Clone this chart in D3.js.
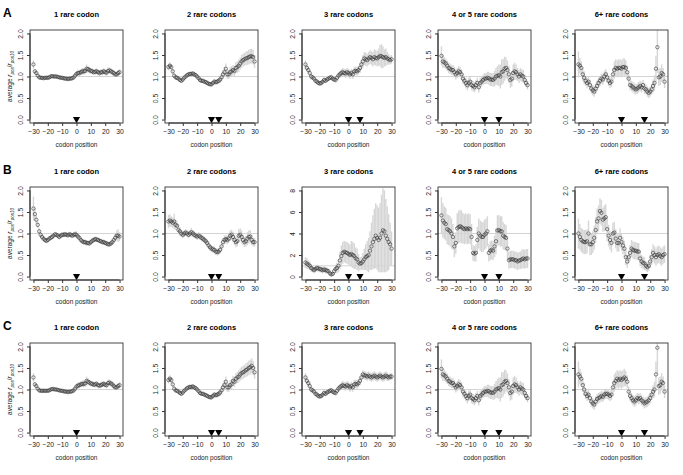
<!DOCTYPE html>
<html><head><meta charset="utf-8">
<script src="https://cdn.jsdelivr.net/npm/d3@7"></script>
<style>body{margin:0;background:#fff}svg{display:block}text{font-family:"Liberation Sans",Arial,sans-serif}</style>
</head><body><svg id="c" width="683" height="475"></svg>
<script>
const positions = d3.range(-30, 31);
const titles = ["1 rare codon","2 rare codons","3 rare codons","4 or 5 rare codons","6+ rare codons"];
const rowLetters = ["A","B","C"];
const rareSites = [[0],[0,5],[0,8],[0,10],[0,16]];
const yTicksStd = [0,0.5,1,1.5,2];
const yTicksBig = [0,2,4,6,8];
const xTicks = [-30,-20,-10,0,10,20,30];

// Row A
const A1 = [1.28,1.12,1.08,1.02,0.98,0.97,0.97,0.96,0.97,0.97, 0.97,0.98,1.0,1.01,1.0,1.0,1.0,0.99,0.98,0.97, 0.97,0.96,0.95,0.95,0.94,0.95,0.95,0.96,0.98,1.02, 1.06,1.08,1.08,1.1,1.12,1.12,1.13,1.18,1.17,1.15, 1.13,1.12,1.1,1.11,1.12,1.1,1.08,1.1,1.1,1.12, 1.1,1.09,1.13,1.14,1.12,1.1,1.08,1.05,1.05,1.08, 1.1];
const A1e = [0.1,0.05,0.04,0.03,0.03,0.03,0.03,0.03,0.03,0.03, 0.03,0.03,0.03,0.03,0.03,0.03,0.03,0.03,0.03,0.03, 0.03,0.03,0.03,0.03,0.03,0.03,0.03,0.04,0.05,0.06, 0.07,0.08,0.07,0.07,0.08,0.08,0.08,0.1,0.08,0.07, 0.07,0.07,0.06,0.07,0.07,0.07,0.06,0.07,0.07,0.07, 0.07,0.07,0.08,0.07,0.07,0.07,0.07,0.06,0.06,0.07, 0.07];
const A2 = [1.22,1.25,1.22,1.12,1.02,0.98,0.97,0.95,0.92,0.9, 0.93,0.97,1.0,1.03,1.05,1.06,1.06,1.07,1.05,1.03, 1.0,0.96,0.92,0.9,0.9,0.88,0.87,0.85,0.83,0.82, 0.82,0.85,0.88,0.87,0.88,0.9,0.93,0.98,1.05,1.1, 1.18,1.05,1.05,1.1,1.12,1.15,1.13,1.2,1.22,1.25, 1.3,1.35,1.38,1.4,1.42,1.43,1.45,1.47,1.47,1.45, 1.35];
const A2e = [0.08,0.08,0.07,0.06,0.05,0.05,0.05,0.05,0.05,0.05, 0.05,0.05,0.05,0.05,0.05,0.05,0.05,0.05,0.05,0.05, 0.05,0.05,0.05,0.05,0.05,0.05,0.05,0.05,0.05,0.05, 0.06,0.06,0.06,0.06,0.07,0.07,0.08,0.09,0.1,0.12, 0.12,0.1,0.1,0.12,0.12,0.12,0.12,0.13,0.13,0.14, 0.14,0.15,0.15,0.15,0.16,0.16,0.17,0.17,0.17,0.17, 0.15];
const A3 = [1.28,1.2,1.15,1.08,1.0,0.98,0.95,0.9,0.88,0.85, 0.84,0.85,0.88,0.92,0.9,0.93,0.95,0.97,0.98,0.95, 0.93,0.92,0.97,1.02,1.05,1.08,1.1,1.08,1.07,1.1, 1.08,1.05,1.08,1.05,1.12,1.13,1.12,1.15,1.2,1.28, 1.35,1.42,1.4,1.38,1.42,1.45,1.43,1.4,1.45,1.43, 1.42,1.45,1.48,1.47,1.45,1.43,1.45,1.42,1.4,1.38, 1.4];
const A3e = [0.1,0.08,0.08,0.07,0.07,0.06,0.06,0.06,0.06,0.06, 0.06,0.06,0.06,0.06,0.06,0.06,0.06,0.06,0.06,0.06, 0.06,0.06,0.07,0.08,0.08,0.09,0.1,0.1,0.1,0.1, 0.1,0.1,0.1,0.1,0.1,0.1,0.1,0.1,0.12,0.12, 0.15,0.15,0.15,0.15,0.15,0.16,0.16,0.17,0.18,0.18, 0.18,0.2,0.25,0.28,0.25,0.2,0.2,0.15,0.12,0.1, 0.1];
const A4 = [1.48,1.35,1.33,1.3,1.25,1.2,1.18,1.15,1.15,1.1, 1.05,1.08,1.12,1.1,1.05,0.95,0.9,0.85,0.8,0.85, 0.88,0.8,0.78,0.75,0.8,0.85,0.75,0.85,0.88,0.92, 0.95,0.95,0.97,0.96,0.93,0.93,0.92,0.95,1.0,1.02, 1.03,1.0,1.1,1.12,1.18,1.2,1.15,1.05,0.92,0.95, 1.08,1.12,1.1,1.05,1.0,1.05,1.02,1.0,0.92,0.85, 0.8];
const A4e = [0.22,0.15,0.13,0.12,0.12,0.12,0.12,0.12,0.12,0.12, 0.12,0.12,0.12,0.12,0.12,0.12,0.12,0.12,0.12,0.12, 0.12,0.12,0.12,0.12,0.12,0.12,0.12,0.12,0.12,0.12, 0.13,0.13,0.14,0.15,0.15,0.15,0.16,0.18,0.2,0.22, 0.25,0.28,0.3,0.28,0.28,0.25,0.22,0.2,0.18,0.18, 0.2,0.2,0.18,0.15,0.15,0.15,0.15,0.15,0.12,0.1, 0.1];
const A5 = [1.28,1.25,1.2,1.05,0.97,0.9,0.85,0.88,0.8,0.72, 0.68,0.65,0.72,0.78,0.85,0.9,0.95,0.93,1.0,1.05, 0.98,0.9,0.85,0.88,1.05,1.15,1.2,1.18,1.2,1.2, 1.18,1.22,1.22,1.2,1.1,0.95,0.8,0.78,0.75,0.72, 0.7,0.72,0.75,0.78,0.75,0.8,0.72,0.7,0.65,0.62, 0.65,0.7,0.78,0.85,1.18,1.68,0.98,1.0,1.08,1.05, 0.88];
const A5e = [0.3,0.18,0.15,0.15,0.15,0.12,0.12,0.12,0.12,0.12, 0.12,0.12,0.12,0.12,0.12,0.12,0.12,0.12,0.12,0.12, 0.12,0.12,0.12,0.12,0.15,0.2,0.2,0.2,0.2,0.2, 0.2,0.2,0.2,0.18,0.15,0.12,0.12,0.12,0.12,0.12, 0.12,0.12,0.12,0.12,0.12,0.12,0.12,0.12,0.12,0.12, 0.12,0.12,0.15,0.18,0.3,0.6,0.2,0.2,0.2,0.15, 0.15];

// Row B
const B1 = [1.58,1.45,1.32,1.2,1.05,0.97,0.92,0.88,0.85,0.83, 0.85,0.88,0.9,0.92,0.95,0.98,0.97,0.95,0.92,0.95, 0.97,0.97,0.98,0.97,0.96,0.98,0.97,0.95,0.97,0.98, 0.97,0.93,0.9,0.85,0.82,0.8,0.8,0.78,0.78,0.77, 0.8,0.83,0.85,0.87,0.86,0.85,0.83,0.82,0.8,0.8, 0.78,0.77,0.75,0.75,0.77,0.8,0.85,0.9,0.95,0.95, 0.93];
const B1e = [0.28,0.15,0.1,0.08,0.07,0.06,0.06,0.06,0.06,0.06, 0.06,0.06,0.06,0.06,0.06,0.06,0.06,0.06,0.06,0.06, 0.06,0.06,0.06,0.06,0.06,0.06,0.06,0.06,0.06,0.07, 0.08,0.07,0.06,0.06,0.06,0.06,0.06,0.06,0.06,0.06, 0.06,0.06,0.06,0.06,0.06,0.06,0.06,0.06,0.06,0.06, 0.06,0.06,0.06,0.06,0.06,0.06,0.07,0.08,0.12,0.15, 0.1];
const B2 = [1.28,1.3,1.28,1.25,1.28,1.2,1.18,1.08,1.05,1.0, 0.97,1.0,1.02,1.0,0.97,1.0,1.03,1.0,0.97,0.95, 0.93,0.95,0.93,0.9,0.88,0.85,0.82,0.78,0.72,0.68, 0.65,0.63,0.62,0.58,0.57,0.58,0.62,0.7,0.8,0.85, 0.87,0.85,0.88,0.95,0.97,0.92,0.85,0.8,0.82,0.95, 0.97,0.92,0.85,0.8,0.82,0.88,0.92,0.93,0.85,0.8, 0.8];
const B2e = [0.15,0.15,0.12,0.12,0.18,0.12,0.1,0.1,0.1,0.08, 0.08,0.08,0.08,0.08,0.08,0.08,0.1,0.08,0.08,0.08, 0.08,0.08,0.08,0.08,0.08,0.08,0.08,0.08,0.08,0.08, 0.08,0.08,0.08,0.08,0.08,0.08,0.08,0.1,0.1,0.1, 0.1,0.1,0.1,0.12,0.12,0.12,0.12,0.12,0.12,0.15, 0.15,0.15,0.12,0.12,0.12,0.15,0.15,0.15,0.12,0.1, 0.1];
const B3 = [1.3,1.2,1.1,1.0,0.8,0.7,0.6,0.7,0.8,0.75, 0.7,0.65,0.6,0.65,0.6,0.55,0.5,0.3,0.2,0.25, 0.5,0.7,0.8,1.0,1.5,1.9,2.2,2.3,2.25,2.2, 2.1,2.0,2.1,2.0,1.9,1.7,1.6,1.3,1.2,1.25, 1.4,1.6,1.8,1.9,2.0,2.4,2.8,3.2,3.5,3.8, 3.6,3.4,3.6,4.0,4.3,4.2,3.8,3.5,3.2,3.0, 2.6];
const B3e = [0.5,0.5,0.4,0.4,0.35,0.3,0.3,0.3,0.3,0.3, 0.3,0.3,0.3,0.3,0.3,0.3,0.25,0.2,0.2,0.2, 0.3,0.4,0.5,0.6,0.8,1.0,1.0,1.0,1.0,1.0, 1.0,1.0,1.2,1.2,1.2,1.0,1.0,0.8,0.6,0.6, 0.8,1.0,1.2,1.4,1.6,1.8,2.2,2.5,2.8,3.0, 3.0,3.0,3.2,3.6,3.9,3.8,3.4,3.0,2.6,2.0, 1.6];
const B4 = [1.42,1.3,1.25,1.22,1.1,1.08,1.05,1.0,0.92,0.7, 0.78,1.12,1.15,1.17,1.15,1.12,1.1,1.12,1.1,1.12, 1.1,0.92,0.55,0.53,0.55,0.85,1.0,0.95,0.92,0.92, 0.97,1.0,1.05,0.55,0.6,0.62,0.6,0.7,0.82,1.07, 1.08,1.05,1.05,0.95,0.92,0.9,0.65,0.38,0.4,0.4, 0.4,0.38,0.38,0.35,0.37,0.38,0.4,0.42,0.4,0.42, 0.42];
const B4e = [0.42,0.4,0.38,0.38,0.35,0.35,0.35,0.35,0.3,0.25, 0.25,0.35,0.38,0.38,0.38,0.35,0.35,0.35,0.35,0.35, 0.35,0.3,0.18,0.18,0.2,0.3,0.35,0.35,0.35,0.35, 0.35,0.35,0.35,0.2,0.22,0.22,0.22,0.25,0.3,0.35, 0.35,0.35,0.35,0.32,0.3,0.3,0.25,0.2,0.2,0.2, 0.2,0.2,0.2,0.2,0.2,0.2,0.22,0.22,0.22,0.22, 0.22];
const B5 = [1.0,0.92,0.85,0.82,0.8,0.8,0.82,1.0,0.75,0.75, 0.8,0.9,1.08,1.28,1.35,1.52,1.48,1.32,1.35,1.38, 1.1,0.95,0.85,0.78,1.0,1.02,0.88,0.78,0.78,0.9, 0.8,0.72,0.65,0.45,0.35,0.45,0.55,0.65,0.62,0.6, 0.6,0.58,0.58,0.42,0.35,0.32,0.3,0.25,0.22,0.25, 0.35,0.45,0.55,0.5,0.45,0.5,0.52,0.48,0.45,0.5, 0.52];
const B5e = [0.35,0.3,0.28,0.28,0.28,0.28,0.28,0.3,0.25,0.25, 0.25,0.28,0.3,0.3,0.3,0.3,0.3,0.28,0.3,0.3, 0.28,0.25,0.22,0.22,0.25,0.25,0.22,0.2,0.2,0.22, 0.2,0.2,0.18,0.18,0.15,0.15,0.18,0.2,0.2,0.2, 0.2,0.2,0.2,0.18,0.15,0.15,0.15,0.12,0.12,0.12, 0.15,0.18,0.2,0.2,0.2,0.2,0.2,0.2,0.2,0.2, 0.2];

// Row C
const C1 = [1.28,1.12,1.08,1.02,0.98,0.97,0.97,0.97,0.97,0.97, 0.97,0.98,1.0,1.01,1.01,1.0,1.0,0.99,0.98,0.97, 0.97,0.96,0.95,0.95,0.94,0.95,0.95,0.96,0.98,1.02, 1.07,1.09,1.1,1.12,1.13,1.13,1.14,1.2,1.18,1.16, 1.14,1.13,1.11,1.12,1.13,1.1,1.09,1.1,1.12,1.13, 1.11,1.1,1.15,1.16,1.14,1.12,1.08,1.05,1.05,1.08, 1.1];
const C1e = A1e;
const C2 = [1.22,1.25,1.22,1.12,1.02,0.98,0.97,0.95,0.92,0.9, 0.93,0.97,1.0,1.03,1.05,1.06,1.06,1.07,1.05,1.03, 1.0,0.96,0.92,0.9,0.9,0.88,0.87,0.85,0.83,0.82, 0.82,0.85,0.88,0.87,0.88,0.9,0.93,0.98,1.05,1.1, 1.18,1.05,1.05,1.1,1.12,1.2,1.18,1.25,1.28,1.3, 1.35,1.38,1.4,1.42,1.45,1.47,1.5,1.52,1.55,1.5, 1.4];
const C2e = A2e;
const C3 = [1.28,1.2,1.15,1.08,1.0,0.98,0.95,0.9,0.88,0.85, 0.84,0.85,0.88,0.92,0.9,0.93,0.95,0.97,0.98,0.95, 0.93,0.92,0.97,1.02,1.05,1.08,1.1,1.08,1.07,1.1, 1.08,1.05,1.08,1.05,1.12,1.13,1.12,1.15,1.2,1.28, 1.35,1.33,1.32,1.3,1.32,1.3,1.28,1.3,1.32,1.3, 1.28,1.3,1.32,1.3,1.28,1.3,1.32,1.3,1.28,1.3, 1.3];
const C3e = [0.1,0.08,0.08,0.07,0.07,0.06,0.06,0.06,0.06,0.06, 0.06,0.06,0.06,0.06,0.06,0.06,0.06,0.06,0.06,0.06, 0.06,0.06,0.07,0.08,0.08,0.09,0.1,0.1,0.1,0.1, 0.1,0.1,0.1,0.1,0.1,0.1,0.1,0.1,0.1,0.1, 0.1,0.1,0.1,0.1,0.1,0.1,0.1,0.1,0.1,0.1, 0.1,0.1,0.1,0.1,0.1,0.1,0.1,0.1,0.08,0.08, 0.08];
const C4 = [1.48,1.35,1.33,1.3,1.25,1.2,1.18,1.15,1.15,1.1, 1.05,1.08,1.12,1.1,1.05,0.95,0.9,0.85,0.8,0.85, 0.88,0.8,0.78,0.75,0.8,0.85,0.75,0.85,0.88,0.92, 0.95,0.95,0.97,0.96,0.93,0.93,0.92,0.95,1.0,1.02, 1.03,1.0,1.1,1.12,1.18,1.2,1.15,1.05,0.92,0.95, 1.08,1.12,1.1,1.05,1.0,1.05,1.02,1.0,0.92,0.85, 0.8];
const C4e = A4e;
const C5 = [1.35,1.3,1.25,1.1,1.0,0.9,0.85,0.88,0.8,0.72, 0.68,0.65,0.72,0.78,0.8,0.82,0.85,0.83,0.88,0.9, 0.9,0.88,0.85,0.88,1.05,1.15,1.2,1.25,1.22,1.25, 1.22,1.25,1.28,1.25,1.18,0.95,0.85,0.8,0.75,0.72, 0.75,0.8,0.78,0.8,0.75,0.72,0.68,0.7,0.72,0.75, 0.8,0.88,0.95,1.0,1.35,1.97,1.08,1.1,1.18,1.15, 0.95];
const C5e = A5e;

const rows = [[A1,A2,A3,A4,A5],[B1,B2,B3,B4,B5],[C1,C2,C3,C4,C5]];
const rowsErr = [[A1e,A2e,A3e,A4e,A5e],[B1e,B2e,B3e,B4e,B5e],[C1e,C2e,C3e,C4e,C5e]];

const svg = d3.select("#c");
svg.append("rect").attr("width",683).attr("height",475).attr("fill","#fff");

const colLeft = [30, 165, 302, 438, 575];
const rowTop = [30, 187, 343];
const boxW = 93, boxH = 93;

rows.forEach((row, ri) => {
  svg.append("text").attr("x", 3).attr("y", rowTop[ri] - 13)
    .attr("font-size", 12).attr("font-weight", "bold").text(rowLetters[ri]);
  row.forEach((vals, ci) => {
    const errs = rowsErr[ri][ci];
    const big = (ri === 1 && ci === 2);
    const yMax = big ? 8 : 2;
    const ticks = big ? yTicksBig : yTicksStd;
    const x0 = colLeft[ci], y0 = rowTop[ri];
    const pad = 0.04;
    const x = d3.scaleLinear().domain([-30 - 60*pad, 30 + 60*pad]).range([x0, x0 + boxW]);
    const y = d3.scaleLinear().domain([0 - yMax*pad, yMax + yMax*pad]).range([y0 + boxH, y0]);
    const g = svg.append("g");
    const clipId = `clip${ri}${ci}`;
    g.append("clipPath").attr("id", clipId).append("rect")
      .attr("x", x0).attr("y", y0).attr("width", boxW).attr("height", boxH);
    const inner = g.append("g").attr("clip-path", `url(#${clipId})`);
    // error bars
    inner.selectAll("line.err").data(positions).join("line")
      .attr("x1", (d) => x(d)).attr("x2", (d) => x(d))
      .attr("y1", (d, i) => y(vals[i] - errs[i])).attr("y2", (d, i) => y(vals[i] + errs[i]))
      .attr("stroke", "#d6d6d6").attr("stroke-width", 1.4);
    // ref line
    inner.append("line").attr("x1", x0).attr("x2", x0 + boxW).attr("y1", y(1)).attr("y2", y(1))
      .attr("stroke", "#d4d4d4").attr("stroke-width", 1);
    // points
    inner.selectAll("circle").data(positions).join("circle")
      .attr("cx", (d) => x(d)).attr("cy", (d, i) => y(vals[i])).attr("r", 1.7)
      .attr("fill", "none").attr("stroke", "#333").attr("stroke-width", 0.6);
    // triangles
    g.selectAll("path.tri").data(rareSites[ci]).join("path")
      .attr("transform", (d) => `translate(${x(d)},${y(0) - 0.5}) rotate(180)`)
      .attr("d", d3.symbol(d3.symbolTriangle, 22)).attr("fill", "#000");
    // box
    g.append("rect").attr("x", x0).attr("y", y0).attr("width", boxW).attr("height", boxH)
      .attr("fill", "none").attr("stroke", "#333").attr("stroke-width", 0.9);
    // x axis
    const xa = g.append("g").attr("transform", `translate(0,${y0 + boxH})`)
      .call(d3.axisBottom(x).tickValues(xTicks).tickSize(3).tickPadding(3).tickFormat(d3.format("d")));
    xa.select(".domain").attr("d", `M${x(-30)},0H${x(30)}`).attr("stroke", "#333");
    xa.selectAll(".tick line").attr("stroke", "#333");
    xa.selectAll("text").attr("font-size", 6.8).attr("font-family", "Liberation Sans, Arial, sans-serif").attr("fill", "#222");
    // y axis
    const ya = g.append("g").attr("transform", `translate(${x0},0)`)
      .call(d3.axisLeft(y).tickValues(ticks).tickSize(3).tickFormat(big ? d3.format("d") : d3.format(".1f")));
    ya.select(".domain").attr("d", `M0,${y(0)}V${y(yMax)}`).attr("stroke", "#333");
    ya.selectAll(".tick line").attr("stroke", "#333");
    ya.selectAll("text").attr("font-size", 6.8).attr("font-family", "Liberation Sans, Arial, sans-serif").attr("fill", "#222")
      .attr("x", 0).attr("dy", 0).attr("text-anchor", "middle")
      .attr("transform", "translate(-7,0) rotate(-90)");
    // title
    svg.append("text").attr("x", x0 + boxW/2).attr("y", y0 - 13).attr("text-anchor", "middle")
      .attr("font-size", 7.5).attr("font-weight", "bold").text(titles[ci]);
    // xlabel
    svg.append("text").attr("x", x0 + boxW/2).attr("y", y0 + boxH + 24).attr("text-anchor", "middle")
      .attr("font-size", 6.5).attr("fill", "#222").text("codon position");
    // ylabel
    if (ci === 0) {
      const t = svg.append("text").attr("transform", `translate(12,${y0 + boxH/2}) rotate(-90)`)
        .attr("text-anchor", "middle").attr("font-size", 6.5).attr("fill", "#222");
      t.append("tspan").text("average ");
      t.append("tspan").attr("font-style", "italic").text("r");
      t.append("tspan").attr("font-size", 4.5).attr("dy", 1.5).attr("font-style", "italic").text("pos");
      t.append("tspan").attr("dy", -1.5).text("/");
      t.append("tspan").attr("font-style", "italic").text("r");
      t.append("tspan").attr("font-size", 4.5).attr("dy", 1.5).attr("font-style", "italic").text("pos10");
    }
  });
});
</script></body></html>
